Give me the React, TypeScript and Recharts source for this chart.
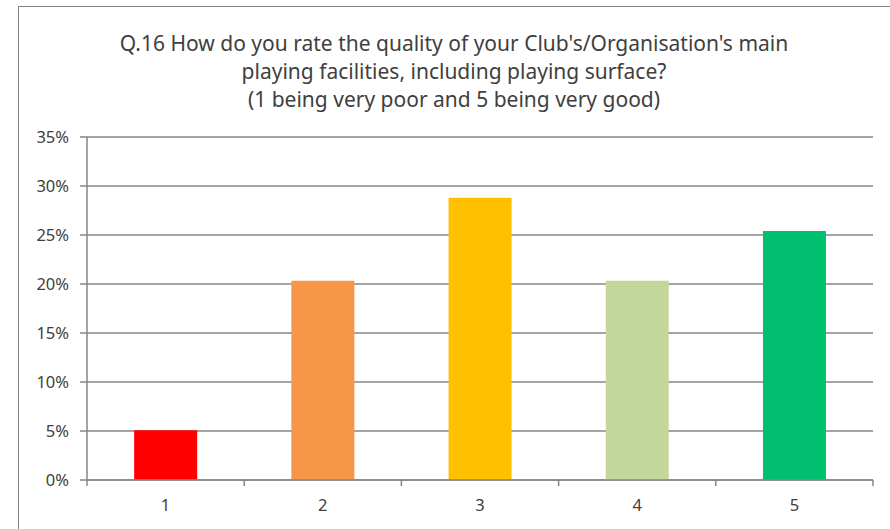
import { BarChart, Bar, XAxis, YAxis, CartesianGrid, Cell } from "recharts";

const ratings = ["1", "2", "3", "4", "5"];
const shares = [0.0508, 0.2034, 0.2881, 0.2034, 0.2542];
const barColors = ["#FF0000", "#F79646", "#FFC000", "#C3D69B", "#00BF6F"];
const yTicks = [0, 0.05, 0.1, 0.15, 0.2, 0.25, 0.3, 0.35];
const titleLines = [
  "Q.16 How do you rate the quality of your Club's/Organisation's main",
  "playing facilities, including playing surface?",
  "(1 being very poor and 5 being very good)",
];

const data = ratings.map((r, i) => ({ rating: r, share: shares[i] }));

const W = 890;
const H = 529;
const margin = { top: 137, right: 17, left: 0, bottom: 0 };
const yAxisWidth = 87;
const band = (W - margin.left - margin.right - yAxisWidth) / ratings.length;
const axisGrey = "#868686";
const textGrey = "#404040";
const font = "'Noto Sans', sans-serif";
const tickFont = { fontSize: 16.5, fontFamily: font };

function CategoryTick({ x, y, payload, index }: any) {
  return (
    <g>
      <line x1={x - band / 2} x2={x - band / 2} y1={y - 8} y2={y - 2} stroke={axisGrey} strokeWidth={1.5} />
      {index === ratings.length - 1 && (
        <line x1={x + band / 2} x2={x + band / 2} y1={y - 8} y2={y - 2} stroke={axisGrey} strokeWidth={1.5} />
      )}
      <text x={x} y={y + 23} textAnchor="middle" fill={textGrey} style={tickFont}>
        {payload.value}
      </text>
    </g>
  );
}

function ValueTick({ x, y, payload }: any) {
  return (
    <text x={x} y={y} dy={6} textAnchor="end" fill={textGrey} style={tickFont}>
      {`${Math.round(payload.value * 100)}%`}
    </text>
  );
}

export default function App() {
  return (
    <div style={{ position: "absolute", left: 0, top: 0, width: W, height: H, overflow: "hidden", background: "#fff" }}>
      <div
        style={{
          position: "absolute",
          left: 18,
          top: 6,
          width: 1000,
          height: 700,
          border: `1.5px solid ${axisGrey}`,
          boxSizing: "border-box",
        }}
      />
      <div
        style={{
          position: "absolute",
          left: 54,
          top: 29,
          width: 800,
          textAlign: "center",
          fontFamily: font,
          fontSize: 21,
          lineHeight: "28px",
          color: textGrey,
        }}
      >
        {titleLines.map((l) => (
          <div key={l}>{l}</div>
        ))}
      </div>
      <div style={{ position: "absolute", left: 0, top: 0 }}>
        <BarChart width={W} height={H} data={data} margin={margin} barCategoryGap="30%">
          <CartesianGrid vertical={false} stroke={axisGrey} strokeWidth={1.5} />
          <XAxis
            dataKey="rating"
            height={H - 480}
            axisLine={{ stroke: axisGrey, strokeWidth: 1.5 }}
            tickLine={false}
            tick={<CategoryTick />}
            interval={0}
          />
          <YAxis
            width={yAxisWidth}
            domain={[0, 0.35]}
            ticks={yTicks}
            interval={0}
            axisLine={{ stroke: axisGrey, strokeWidth: 1.5 }}
            tickLine={{ stroke: axisGrey, strokeWidth: 1.5 }}
            tickSize={7}
            tickMargin={11}
            tick={<ValueTick />}
          />
          <Bar dataKey="share" isAnimationActive={false}>
            {data.map((d, i) => (
              <Cell key={d.rating} fill={barColors[i]} />
            ))}
          </Bar>
        </BarChart>
      </div>
    </div>
  );
}
